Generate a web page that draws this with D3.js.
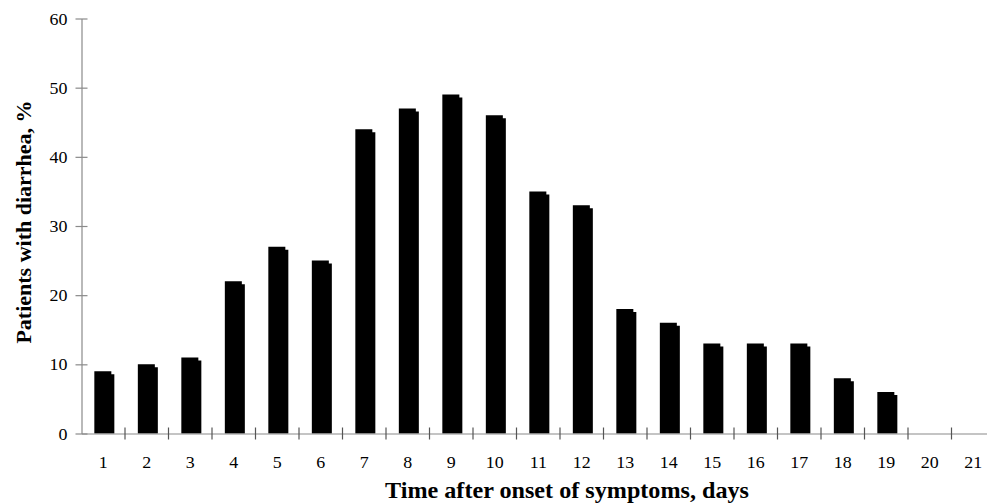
<!DOCTYPE html>
<html>
<head>
<meta charset="utf-8">
<script src="https://cdn.jsdelivr.net/npm/d3@7"></script>
<style>
  html, body { margin: 0; padding: 0; background: #fff; }
  svg { display: block; }
  text { font-family: "Liberation Serif", "Times New Roman", serif; fill: #000; }
</style>
</head>
<body>
<svg id="chart" width="987" height="504"></svg>
<script>
// ---- data ----
const days = ["1","2","3","4","5","6","7","8","9","10","11","12","13","14","15","16","17","18","19","20","21"];
const percentWithDiarrhea = [9,10,11,22,27,25,44,47,49,46,35,33,18,16,13,13,13,8,6,0,0];
const yTicks = [0,10,20,30,40,50,60];
const xTitle = "Time after onset of symptoms, days";
const yTitle = "Patients with diarrhea, %";

// ---- layout ----
const svg = d3.select("#chart");
const x0 = 81.5, x1 = 995, yBottom = 433.5, yTop = 18.5;
const axisColor = "#8a8a8a";

const x = d3.scaleBand().domain(days).range([x0, x1]).paddingInner(0).paddingOuter(0);
const y = d3.scaleLinear().domain([0, 60]).range([yBottom, yTop]);

const barOffset = x.bandwidth() * 0.295;
const barWidth = x.bandwidth() * 0.46;
const notchW = 3, notchH = 3;

const data = days.map((d, i) => ({ day: d, v: percentWithDiarrhea[i] }));

// bars (main part with a small stepped notch at top-right)
const g = svg.append("g");
g.selectAll("path.bar")
  .data(data.filter(d => d.v > 0))
  .enter().append("path")
  .attr("class", "bar")
  .attr("fill", "#000")
  .attr("d", d => {
    const L = x(d.day) + barOffset, R = L + barWidth;
    const T = y(d.v), B = y(0);
    return `M${L},${B}V${T}H${R - notchW}V${T + notchH}H${R}V${B}Z`;
  });

// y axis
const yAxis = svg.append("g").attr("transform", `translate(${x0},0)`)
  .call(d3.axisLeft(y).tickValues(yTicks).tickSize(0).tickPadding(0).tickFormat(d3.format("d")));
yAxis.select(".domain").attr("stroke", axisColor).attr("stroke-width", 1.2);
yAxis.selectAll(".tick line").attr("x1", -6).attr("x2", 6).attr("stroke", axisColor).attr("stroke-width", 1.2);
yAxis.selectAll(".tick text")
  .attr("x", 0).attr("dy", "0.35em")
  .attr("transform", "translate(-14,0) scale(1.12,1)")
  .attr("font-size", 16).attr("font-family", "Liberation Serif").attr("fill", "#000");

// x axis
const xAxis = svg.append("g").attr("transform", `translate(0,${yBottom})`)
  .call(d3.axisBottom(x).tickSize(0).tickPadding(0));
xAxis.select(".domain").attr("stroke", axisColor).attr("stroke-width", 1.2);
xAxis.selectAll(".tick line").remove();
xAxis.selectAll(".tick text")
  .attr("y", 0).attr("dy", 0)
  .attr("transform", "translate(0,34) scale(1.12,1)")
  .attr("font-size", 16).attr("font-family", "Liberation Serif").attr("fill", "#000");

// category boundary ticks (crossing the axis)
svg.append("g").selectAll("line")
  .data(days.slice(1))
  .enter().append("line")
  .attr("x1", d => x(d)).attr("x2", d => x(d))
  .attr("y1", yBottom - 6).attr("y2", yBottom + 6)
  .attr("stroke", "#555").attr("stroke-width", 1.2);

// titles
svg.append("text")
  .attr("transform", "translate(567,498) scale(1.05,1)")
  .attr("text-anchor", "middle")
  .attr("font-size", 23).attr("font-weight", "bold")
  .text(xTitle);

svg.append("text")
  .attr("transform", `translate(31,222) rotate(-90)`)
  .attr("text-anchor", "middle")
  .attr("font-size", 22).attr("font-weight", "bold")
  .text(yTitle);
</script>
</body>
</html>
